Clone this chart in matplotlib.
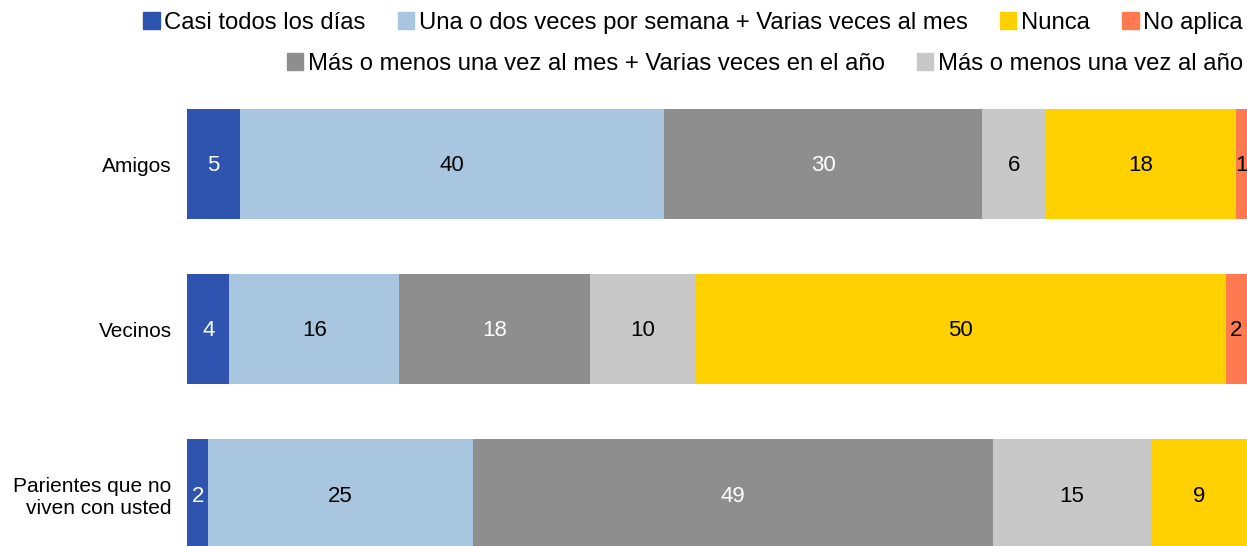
import matplotlib.pyplot as plt
import matplotlib.patches as mpatches
import numpy as np

plt.rcParams['font.family'] = ['Liberation Sans', 'DejaVu Sans']

# Data
categories = ['Amigos', 'Vecinos', 'Parientes que no\nviven con usted']
series_names = ['Casi todos los días',
                'Una o dos veces por semana + Varias veces al mes',
                'Más o menos una vez al mes + Varias veces en el año',
                'Más o menos una vez al año',
                'Nunca',
                'No aplica']
casi = [5, 4, 2]
semana = [40, 16, 25]
mes = [30, 18, 49]
anio = [6, 10, 15]
nunca = [18, 50, 9]
no_aplica = [1, 2, 0]

series = [casi, semana, mes, anio, nunca, no_aplica]
colors = ['#2E54B0', '#A8C6E0', '#8E8E8E', '#C8C8C8', '#FFD100', '#FF7A50']
text_colors = ['white', 'black', 'white', 'black', 'black', 'black']

W, H = 1247, 546
fig = plt.figure(figsize=(W / 100, H / 100), dpi=100)
ax = fig.add_axes([187 / W, 0, 1060 / W, (546 - 81.5) / H])

y = np.arange(len(categories))
left = np.zeros(len(categories))
for vals, c, tc in zip(series, colors, text_colors):
    vals = np.array(vals, dtype=float)
    bars = ax.barh(y, vals, left=left, height=0.667, color=c, linewidth=0)
    for rect, v in zip(bars, vals):
        if v > 0:
            ax.text(rect.get_x() + rect.get_width() / 2, rect.get_y() + rect.get_height() / 2 + 0.012,
                    '{:.0f}'.format(v), ha='center', va='center', color=tc, fontsize=16)
    left += vals

ax.set_xlim(0, 100)
ax.set_ylim(2.315, -0.5)
ax.set_yticks(y)
ax.set_yticklabels(categories, fontsize=15)
ax.set_xticks([])
ax.tick_params(axis='y', length=0, pad=11)
for s in ax.spines.values():
    s.set_visible(False)

# Two-row legend, right aligned
def handle(i):
    return mpatches.Patch(color=colors[i], label=series_names[i])

leg_kw = dict(frameon=False, fontsize=17.2, handlelength=0.68, handleheight=0.68,
              handletextpad=0.2, columnspacing=1.35, borderpad=0, borderaxespad=0,
              loc='center right')
row1 = [handle(0), handle(1), handle(4), handle(5)]
row2 = [handle(2), handle(3)]
fig.legend(handles=row1, ncol=4, bbox_to_anchor=(1243 / W, 1 - 23 / H), **leg_kw)
fig.legend(handles=row2, ncol=2, bbox_to_anchor=(1243 / W, 1 - 64 / H), **leg_kw)

fig.savefig('out.png', dpi=100)
